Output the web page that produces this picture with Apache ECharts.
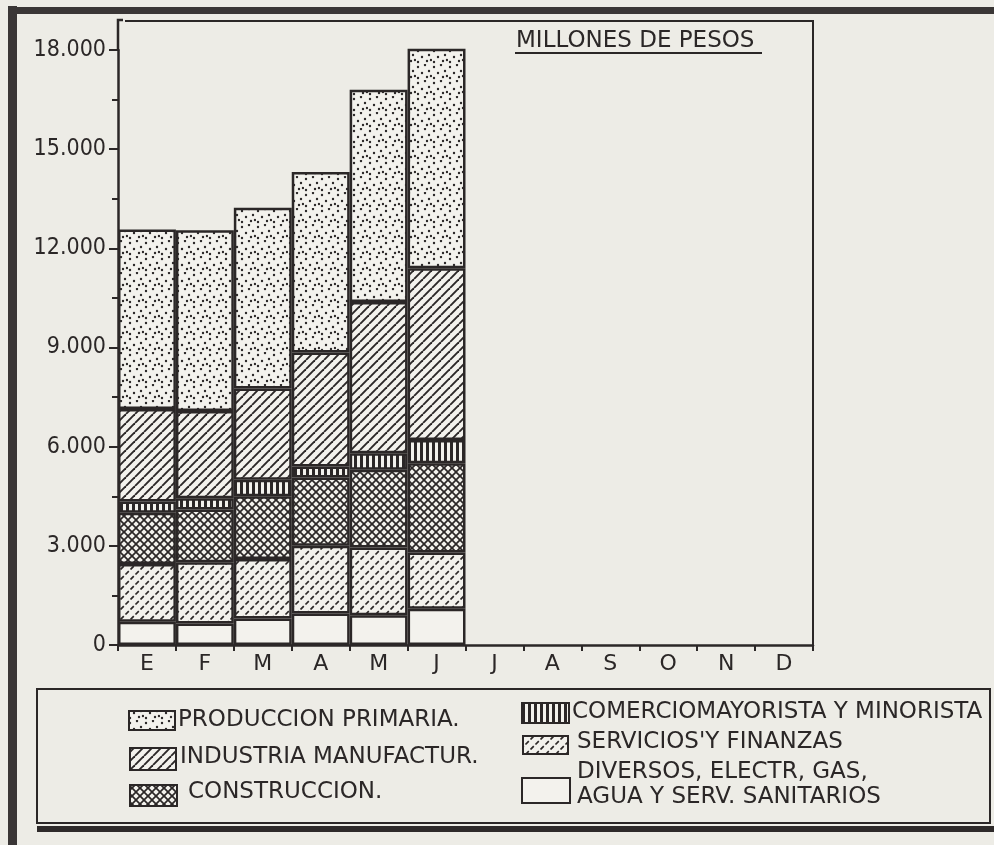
<!DOCTYPE html>
<html>
<head>
<meta charset="utf-8">
<script src="https://cdn.jsdelivr.net/npm/echarts@6/dist/echarts.min.js"></script>
<style>
html, body { margin: 0; padding: 0; background: #edece6; }
#chart { width: 994px; height: 845px; }
</style>
</head>
<body>
<div id="chart"></div>
<script>
// months of the year (only Jan-Jun have data)
const months = ['E', 'F', 'M', 'A', 'M', 'J', 'J', 'A', 'S', 'O', 'N', 'D'];

// millones de pesos, stacked bottom -> top
const diversos     = [700, 650, 800, 950, 900, 1100];
const servicios    = [1750, 1850, 1800, 2050, 2050, 1700];
const construccion = [1550, 1600, 1900, 2070, 2350, 2700];
const comercio     = [340, 340, 500, 330, 500, 700];
const industria    = [2800, 2640, 2760, 3450, 4580, 5200];
const primaria     = [5430, 5470, 5470, 5460, 6420, 6750];

const seriesNames = {
    primaria: 'PRODUCCION PRIMARIA.',
    industria: 'INDUSTRIA MANUFACTUR.',
    construccion: 'CONSTRUCCION.',
    comercio: 'COMERCIOMAYORISTA Y MINORISTA',
    servicios: "SERVICIOS'Y FINANZAS",
    diversos: 'DIVERSOS, ELECTR, GAS,\nAGUA Y SERV. SANITARIOS'
};

const ink = '#2b2727';
const paper = '#f3f2ed';

function makePattern(kind) {
    const c = document.createElement('canvas');
    const ctx = c.getContext('2d');
    if (kind === 'dots') {
        c.width = 16; c.height = 16;
        ctx.fillStyle = paper; ctx.fillRect(0, 0, 16, 16);
        ctx.fillStyle = ink;
        [[2, 3], [9, 1], [13, 7], [6, 9], [11, 13], [2, 14], [15, 12]].forEach(p => {
            ctx.beginPath(); ctx.arc(p[0], p[1], 1.2, 0, Math.PI * 2); ctx.fill();
        });
    } else if (kind === 'diag') {
        c.width = 9; c.height = 9;
        ctx.fillStyle = paper; ctx.fillRect(0, 0, 9, 9);
        ctx.strokeStyle = ink; ctx.lineWidth = 1.9;
        for (let k = -1; k <= 1; k++) {
            ctx.beginPath(); ctx.moveTo(k * 9, 9); ctx.lineTo(k * 9 + 9, 0); ctx.stroke();
        }
    } else if (kind === 'cross') {
        c.width = 8; c.height = 8;
        ctx.fillStyle = paper; ctx.fillRect(0, 0, 8, 8);
        ctx.strokeStyle = ink; ctx.lineWidth = 1.7;
        for (let k = -1; k <= 1; k++) {
            ctx.beginPath(); ctx.moveTo(k * 8, 8); ctx.lineTo(k * 8 + 8, 0); ctx.stroke();
            ctx.beginPath(); ctx.moveTo(k * 8, 0); ctx.lineTo(k * 8 + 8, 8); ctx.stroke();
        }
    } else if (kind === 'vert') {
        c.width = 6; c.height = 4;
        ctx.fillStyle = paper; ctx.fillRect(0, 0, 6, 4);
        ctx.fillStyle = ink; ctx.fillRect(0, 0, 3, 4);
    } else if (kind === 'dash') {
        c.width = 10; c.height = 10;
        ctx.fillStyle = paper; ctx.fillRect(0, 0, 10, 10);
        ctx.strokeStyle = ink; ctx.lineWidth = 1.7;
        ctx.beginPath(); ctx.moveTo(0.5, 9.5); ctx.lineTo(3.8, 6.2); ctx.stroke();
        ctx.beginPath(); ctx.moveTo(5.5, 4.5); ctx.lineTo(8.8, 1.2); ctx.stroke();
    } else {
        c.width = 4; c.height = 4;
        ctx.fillStyle = paper; ctx.fillRect(0, 0, 4, 4);
    }
    return { image: c, repeat: 'repeat' };
}

const patterns = {
    primaria: makePattern('dots'),
    industria: makePattern('diag'),
    construccion: makePattern('cross'),
    comercio: makePattern('vert'),
    servicios: makePattern('dash'),
    diversos: makePattern('plain')
};

const stackOrder = [
    ['diversos', diversos],
    ['servicios', servicios],
    ['construccion', construccion],
    ['comercio', comercio],
    ['industria', industria],
    ['primaria', primaria]
];

const chart = echarts.init(document.getElementById('chart'));

const font = 'DejaVu Sans';

// legend layout: swatch box and text start
const legendLayout = {
    primaria:     { x: 129, y: 711, w: 46, h: 19, tx: 178, ty: 720 },
    industria:    { x: 130, y: 748, w: 46, h: 22, tx: 180, ty: 757 },
    construccion: { x: 130, y: 785, w: 47, h: 21, tx: 188, ty: 792 },
    comercio:     { x: 522, y: 703, w: 47, h: 20, tx: 572, ty: 712 },
    servicios:    { x: 523, y: 736, w: 45, h: 18, tx: 577, ty: 742 },
    diversos:     { x: 522, y: 778, w: 48, h: 25, tx: 577, ty: 785 }
};

const legendGraphics = [];
Object.keys(legendLayout).forEach(key => {
    const l = legendLayout[key];
    legendGraphics.push({
        type: 'rect',
        shape: { x: l.x, y: l.y, width: l.w, height: l.h },
        style: { fill: patterns[key], stroke: ink, lineWidth: 2 }
    });
    legendGraphics.push({
        type: 'text',
        x: l.tx, y: l.ty,
        style: {
            text: seriesNames[key],
            font: (key === 'comercio' ? '23px ' : '23px ') + font,
            fill: ink,
            verticalAlign: 'middle',
            lineHeight: 25
        }
    });
});

const option = {
    backgroundColor: '#edece6',
    animation: false,
    grid: { left: 118, right: 181, top: 50, bottom: 200 },
    xAxis: {
        type: 'category',
        data: months,
        axisLine: { lineStyle: { color: ink, width: 2.5 } },
        axisTick: { show: true, length: 6, lineStyle: { color: ink, width: 2 } },
        axisLabel: { color: ink, fontFamily: font, fontSize: 22, margin: 8 }
    },
    yAxis: {
        type: 'value',
        min: 0,
        max: 18000,
        interval: 3000,
        axisLine: { show: true, lineStyle: { color: ink, width: 2.5 } },
        axisTick: { show: true, length: 9, lineStyle: { color: ink, width: 2 } },
        minorTick: { show: true, splitNumber: 2, length: 6, lineStyle: { color: ink, width: 2 } },
        splitLine: { show: false },
        axisLabel: {
            color: ink,
            fontFamily: 'DejaVu Sans Condensed',
            fontSize: 23,
            margin: 12,
            formatter: v => String(v).replace(/\B(?=(\d{3})+(?!\d))/g, '.')
        }
    },
    series: stackOrder.map(([key, values]) => ({
        name: seriesNames[key],
        type: 'bar',
        stack: 'total',
        data: values,
        barCategoryGap: '0%',
        itemStyle: { color: patterns[key], borderColor: ink, borderWidth: 2.5 }
    })),
    graphic: [
        // outer photographed frame
        { type: 'rect', shape: { x: 8, y: 6, width: 9, height: 845 }, style: { fill: '#3a3636' } },
        { type: 'rect', shape: { x: 8, y: 7, width: 986, height: 7 }, style: { fill: '#3a3636' } },
        // plot frame and y axis extension
        { type: 'polyline', shape: { points: [[118, 51], [118, 20], [123, 20]] }, style: { stroke: ink, lineWidth: 2.5, fill: null } },
        { type: 'polyline', shape: { points: [[125, 21], [813, 21], [813, 645]] }, style: { stroke: ink, lineWidth: 2, fill: null } },
        // title
        {
            type: 'text', x: 516, y: 41,
            style: { text: 'MILLONES DE PESOS', font: '23px ' + font, fill: ink, verticalAlign: 'middle' }
        },
        { type: 'line', shape: { x1: 515, y1: 53, x2: 762, y2: 53 }, style: { stroke: ink, lineWidth: 2 } },
        // legend box
        { type: 'rect', shape: { x: 37, y: 689, width: 953, height: 134 }, style: { fill: null, stroke: ink, lineWidth: 2 } },
        { type: 'rect', shape: { x: 37, y: 826, width: 957, height: 6 }, style: { fill: '#2e2a2a' } }
    ].concat(legendGraphics)
};

chart.setOption(option);
</script>
</body>
</html>
